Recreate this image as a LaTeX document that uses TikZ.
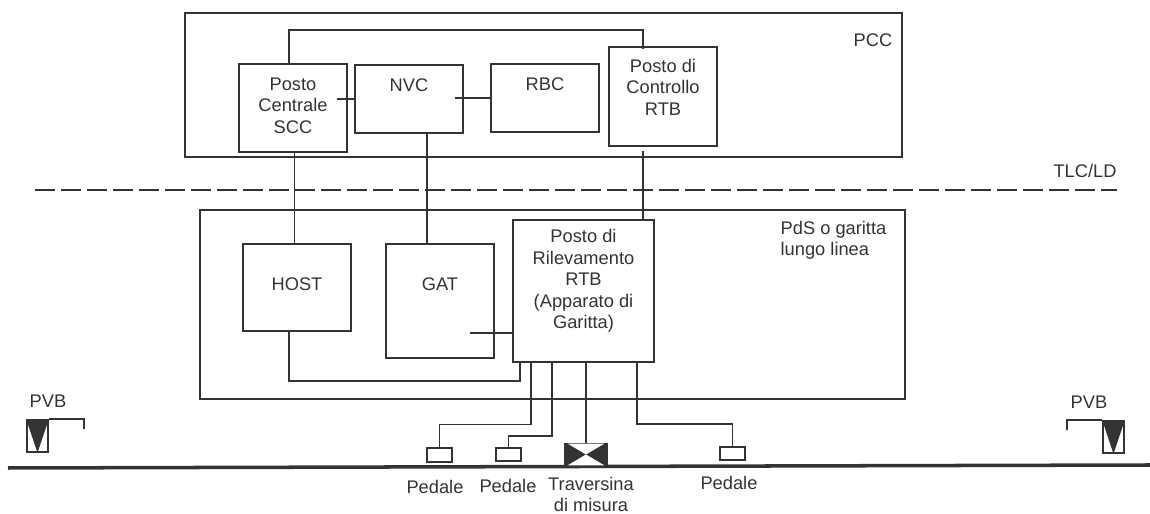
\documentclass[tikz,border=0pt]{standalone}
\usepackage{fontspec}
\setmainfont{Liberation Sans}
\definecolor{ink}{gray}{0.2}
\tikzset{
  wire/.style={draw=ink, line width=0.9pt},
  zonebox/.style={wire, minimum width=#1, inner sep=0pt},
  unitbox/.style={wire, inner sep=0pt, minimum width=2.16cm},
  unittext/.style={anchor=north, align=center, inner sep=0pt, text=ink, font=\fontsize{10.4}{12.2}\selectfont},
  pedalbox/.style={wire, inner sep=0pt, minimum width=0.5cm, minimum height=0.27cm},
  signalbox/.style={wire, inner sep=0pt, minimum width=0.42cm, minimum height=0.64cm},
  tag/.style={align=center, inner sep=0pt, text=ink, font=\fontsize{10.4}{12.2}\selectfont}
}
\begin{document}
\begin{tikzpicture}
\useasboundingbox (0,0) rectangle (23,10.28);
% zones
\node[zonebox=14.34cm, minimum height=2.88cm] (pcc) at (10.87,8.58) {};
\node[zonebox=14.1cm, minimum height=3.78cm] (pds) at (11.05,4.19) {};
\node[tag] (pcctag) at (17.46,9.48) {PCC};
\node[tag] (tlctag) at (21.7,6.86) {TLC/LD};
\node[tag, align=left] (pdstag) at (16.67,5.47) {PdS o garitta\\lungo linea};
\draw[draw=ink, line width=1.4pt, dash pattern=on 11.4pt off 3.4pt] (0.7,6.48) -- (22.34,6.48);
% units
\node[unitbox, minimum height=1.76cm, label={[unittext, yshift=-0.28cm]north:Posto\\Centrale\\SCC}] (scc) at (5.86,8.12) {};
\node[unitbox, minimum height=1.36cm, label={[unittext, yshift=-0.28cm]north:NVC}] (nvc) at (8.18,8.30) {};
\node[unitbox, minimum height=1.36cm, label={[unittext, yshift=-0.28cm]north:RBC}] (rbc) at (10.90,8.32) {};
\node[unitbox, minimum height=1.98cm, label={[unittext, yshift=-0.25cm]north:Posto di\\Controllo\\RTB}] (ctrl) at (13.26,8.35) {};
\node[unitbox, minimum height=1.74cm, label={[unittext, yshift=-0.68cm]north:HOST}] (host) at (5.94,4.53) {};
\node[unitbox, minimum height=2.28cm, label={[unittext, yshift=-0.68cm]north:GAT}] (gat) at (8.80,4.26) {};
\node[unitbox, minimum width=2.82cm, minimum height=2.84cm, label={[unittext, yshift=-0.2cm]north:Posto di\\Rilevamento\\RTB\\(Apparato di\\Garitta)}] (ril) at (11.67,4.46) {};
% links
\coordinate (toplink) at (12.86,9.68);
\draw[wire] ([xshift=-0.08cm]scc.north) |- (toplink) -- ([xshift=-0.4cm,yshift=-0.06cm]ctrl.north);
\draw[wire] (nvc.west) -- ++(-0.34,0);
\draw[wire] (rbc.west) -- ++(-0.7,0);
\draw[wire] ([xshift=0.03cm]scc.south) -- ([xshift=-0.05cm]host.north);
\draw[wire] ([xshift=0.36cm]nvc.south) -- ([xshift=0.36cm]nvc.south |- gat.north);
\draw[wire] ([xshift=-0.4cm,yshift=-0.08cm]ctrl.south) -- ([xshift=-0.4cm]ctrl.south |- ril.north);
\draw[wire] ([yshift=-0.84cm]ril.west) -- ++(-0.84,0);
\draw[wire] ([xshift=-0.16cm]host.south) |- ([xshift=-1.27cm,yshift=-0.36cm]ril.south) -- ([xshift=-1.27cm]ril.south);
% track
\draw[draw=ink, line width=2pt] (0.16,0.92) -- (23,0.98);
\node[pedalbox] (peda) at (8.79,1.18) {};
\node[pedalbox] (pedb) at (10.17,1.19) {};
\node[pedalbox] (pedc) at (14.65,1.21) {};
\node[fill=ink, inner sep=0pt, minimum width=0.88cm, minimum height=0.46cm] (trv) at (11.72,1.19) {};
\fill[white] ([xshift=0.08cm,yshift=-0.02cm]trv.north west) -- ([xshift=-0.08cm,yshift=-0.02cm]trv.north east) -- (trv.center) -- cycle;
\fill[white] ([xshift=0.08cm,yshift=0.02cm]trv.south west) -- ([xshift=-0.08cm,yshift=0.02cm]trv.south east) -- (trv.center) -- cycle;
\draw[wire] ([xshift=-1.05cm]ril.south) |- ([yshift=0.46cm]peda.north) -- (peda.north);
\draw[wire] ([xshift=-0.63cm]ril.south) |- ([yshift=0.22cm]pedb.north) -- (pedb.north);
\draw[wire] (trv.north |- ril.south) -- (trv.north);
\draw[wire] ([xshift=1.07cm]ril.south) |- ([yshift=0.44cm]pedc.north) -- (pedc.north);
\node[tag] (pedatag) at (8.7,0.54) {Pedale};
\node[tag] (pedbtag) at (10.16,0.56) {Pedale};
\node[tag] (pedctag) at (14.58,0.62) {Pedale};
\node[tag] (trvtag) at (11.82,0.39) {Traversina\\di misura};
% signals
\node[signalbox] (pvbl) at (0.75,1.56) {};
\fill[ink] (pvbl.north west) -- (pvbl.north east) -- (pvbl.south) -- cycle;
\draw[wire] (pvbl.north east) -- ++(0.7,0) -- ++(0,-0.2);
\node[tag] (pvbltag) at (0.96,2.26) {PVB};
\node[signalbox] (pvbr) at (22.27,1.54) {};
\fill[ink] (pvbr.north west) -- (pvbr.north east) -- (pvbr.south) -- cycle;
\draw[wire] (pvbr.north west) -- ++(-0.7,0) -- ++(0,-0.2);
\node[tag] (pvbrtag) at (21.78,2.24) {PVB};
\end{tikzpicture}
\end{document}
